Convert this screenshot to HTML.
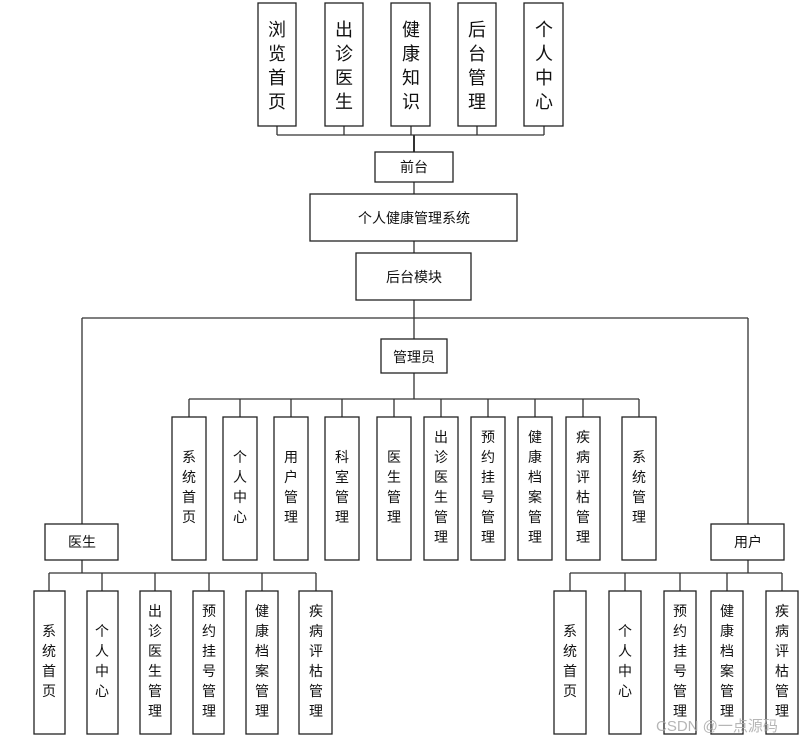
<!DOCTYPE html>
<html><head><meta charset="utf-8"><style>
html,body{margin:0;padding:0;background:#fff;}
svg{display:block;}
text{font-family:"Liberation Sans","Noto Sans CJK SC",sans-serif;fill:#111;}
</style></head><body>
<svg width="808" height="744" viewBox="0 0 808 744" xmlns="http://www.w3.org/2000/svg">
<g stroke="#333" stroke-width="1.3" fill="none">
<!-- top connectors -->
<path d="M277 126V135M344 126V135M411 126V135M477 126V135M544 126V135M277 135H544"/>
<path d="M414 135V152" stroke-width="2"/>
<path d="M414 182V194M414 241V253M414 300V339M82 318H748M82 318V524M748 318V524"/>
<path d="M414 373V399M189 399H639"/>
<path d="M189 399V417M240 399V417M291 399V417M342 399V417M394 399V417M441 399V417M488 399V417M535 399V417M583 399V417M639 399V417"/>
<path d="M82 560V573M49 573H316M49 573V591M102 573V591M155 573V591M209 573V591M262 573V591M316 573V591"/>
<path d="M748 560V573M570 573H782M570 573V591M625 573V591M680 573V591M727 573V591M782 573V591"/>
</g>
<g stroke="#222" stroke-width="1.3" fill="#fff">
<rect x="258" y="3" width="38" height="123"/><rect x="325" y="3" width="38" height="123"/><rect x="391" y="3" width="39" height="123"/><rect x="458" y="3" width="38" height="123"/><rect x="524" y="3" width="39" height="123"/>
<rect x="375" y="152" width="78" height="30"/>
<rect x="310" y="194" width="207" height="47"/>
<rect x="356" y="253" width="115" height="47"/>
<rect x="381" y="339" width="66" height="34"/>
<rect x="172" y="417" width="34" height="143"/><rect x="223" y="417" width="34" height="143"/><rect x="274" y="417" width="34" height="143"/><rect x="325" y="417" width="34" height="143"/><rect x="377" y="417" width="34" height="143"/><rect x="424" y="417" width="34" height="143"/><rect x="471" y="417" width="34" height="143"/><rect x="518" y="417" width="34" height="143"/><rect x="566" y="417" width="34" height="143"/><rect x="622" y="417" width="34" height="143"/>
<rect x="45" y="524" width="73" height="36"/><rect x="711" y="524" width="73" height="36"/>
<rect x="34" y="591" width="31" height="143"/><rect x="87" y="591" width="31" height="143"/><rect x="140" y="591" width="31" height="143"/><rect x="193" y="591" width="31" height="143"/><rect x="246" y="591" width="32" height="143"/><rect x="299" y="591" width="33" height="143"/>
<rect x="554" y="591" width="32" height="143"/><rect x="609" y="591" width="32" height="143"/><rect x="664" y="591" width="32" height="143"/><rect x="711" y="591" width="32" height="143"/><rect x="766" y="591" width="32" height="143"/>
</g>
<g font-size="18" text-anchor="middle">
<text x="277" y="36">浏</text><text x="277" y="60">览</text><text x="277" y="84">首</text><text x="277" y="108">页</text>
<text x="344" y="36">出</text><text x="344" y="60">诊</text><text x="344" y="84">医</text><text x="344" y="108">生</text>
<text x="411" y="36">健</text><text x="411" y="60">康</text><text x="411" y="84">知</text><text x="411" y="108">识</text>
<text x="477" y="36">后</text><text x="477" y="60">台</text><text x="477" y="84">管</text><text x="477" y="108">理</text>
<text x="544" y="36">个</text><text x="544" y="60">人</text><text x="544" y="84">中</text><text x="544" y="108">心</text>
</g>
<g font-size="14" text-anchor="middle">
<text x="414" y="172">前台</text>
<text x="414" y="223">个人健康管理系统</text>
<text x="414" y="282">后台模块</text>
<text x="414" y="362">管理员</text>
<text x="82" y="547">医生</text>
<text x="748" y="547">用户</text>
</g>
<g font-size="14" text-anchor="middle" id="v">
<!-- admin -->
<text x="189" y="462">系</text><text x="189" y="482">统</text><text x="189" y="502">首</text><text x="189" y="522">页</text>
<text x="240" y="462">个</text><text x="240" y="482">人</text><text x="240" y="502">中</text><text x="240" y="522">心</text>
<text x="291" y="462">用</text><text x="291" y="482">户</text><text x="291" y="502">管</text><text x="291" y="522">理</text>
<text x="342" y="462">科</text><text x="342" y="482">室</text><text x="342" y="502">管</text><text x="342" y="522">理</text>
<text x="394" y="462">医</text><text x="394" y="482">生</text><text x="394" y="502">管</text><text x="394" y="522">理</text>
<text x="441" y="442">出</text><text x="441" y="462">诊</text><text x="441" y="482">医</text><text x="441" y="502">生</text><text x="441" y="522">管</text><text x="441" y="542">理</text>
<text x="488" y="442">预</text><text x="488" y="462">约</text><text x="488" y="482">挂</text><text x="488" y="502">号</text><text x="488" y="522">管</text><text x="488" y="542">理</text>
<text x="535" y="442">健</text><text x="535" y="462">康</text><text x="535" y="482">档</text><text x="535" y="502">案</text><text x="535" y="522">管</text><text x="535" y="542">理</text>
<text x="583" y="442">疾</text><text x="583" y="462">病</text><text x="583" y="482">评</text><text x="583" y="502">枯</text><text x="583" y="522">管</text><text x="583" y="542">理</text>
<text x="639" y="462">系</text><text x="639" y="482">统</text><text x="639" y="502">管</text><text x="639" y="522">理</text>
<!-- doctor -->
<text x="49" y="636">系</text><text x="49" y="656">统</text><text x="49" y="676">首</text><text x="49" y="696">页</text>
<text x="102" y="636">个</text><text x="102" y="656">人</text><text x="102" y="676">中</text><text x="102" y="696">心</text>
<text x="155" y="616">出</text><text x="155" y="636">诊</text><text x="155" y="656">医</text><text x="155" y="676">生</text><text x="155" y="696">管</text><text x="155" y="716">理</text>
<text x="209" y="616">预</text><text x="209" y="636">约</text><text x="209" y="656">挂</text><text x="209" y="676">号</text><text x="209" y="696">管</text><text x="209" y="716">理</text>
<text x="262" y="616">健</text><text x="262" y="636">康</text><text x="262" y="656">档</text><text x="262" y="676">案</text><text x="262" y="696">管</text><text x="262" y="716">理</text>
<text x="316" y="616">疾</text><text x="316" y="636">病</text><text x="316" y="656">评</text><text x="316" y="676">枯</text><text x="316" y="696">管</text><text x="316" y="716">理</text>
<!-- user -->
<text x="570" y="636">系</text><text x="570" y="656">统</text><text x="570" y="676">首</text><text x="570" y="696">页</text>
<text x="625" y="636">个</text><text x="625" y="656">人</text><text x="625" y="676">中</text><text x="625" y="696">心</text>
<text x="680" y="616">预</text><text x="680" y="636">约</text><text x="680" y="656">挂</text><text x="680" y="676">号</text><text x="680" y="696">管</text><text x="680" y="716">理</text>
<text x="727" y="616">健</text><text x="727" y="636">康</text><text x="727" y="656">档</text><text x="727" y="676">案</text><text x="727" y="696">管</text><text x="727" y="716">理</text>
<text x="782" y="616">疾</text><text x="782" y="636">病</text><text x="782" y="656">评</text><text x="782" y="676">枯</text><text x="782" y="696">管</text><text x="782" y="716">理</text>
</g>
<text x="656" y="731" font-size="15" fill="#999" style="fill:#aaa;opacity:0.85">CSDN @一点源码</text>
</svg>
</body></html>
